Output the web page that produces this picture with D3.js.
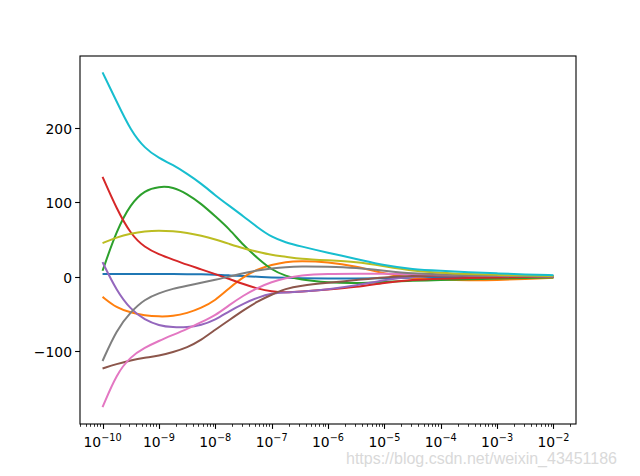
<!DOCTYPE html>
<html><head><meta charset="utf-8">
<script src="https://cdn.jsdelivr.net/npm/d3@7"></script>
<style>body{margin:0;background:#fff}svg{display:block}</style>
</head><body>
<script>
// x positions: exponents of alpha (10^k)
const exponents = [-10,-9.75,-9.5,-9.25,-9,-8.75,-8.5,-8.25,-8,-7.75,-7.5,-7.25,-7,-6.75,-6.5,-6,-5.5,-5,-4.5,-4,-3.5,-3,-2.5,-2];
const s0 = [3.8, 3.8, 3.8, 3.8, 3.8, 3.7, 3.5, 3.2, 2.8, 1.8, 0.8, 0, -1, -1.5, -2, -2.5, -2.5, -2, -1.5, -1, -0.5, -0.3, -0.2, 0];
const s1 = [-27, -42, -48, -52, -53.5, -53, -49, -42, -32, -15, 0, 10, 16, 20, 21, 20, 14, 4, -2, -4, -5, -4.5, -3, -1.5];
const s2 = [8, 62, 98, 116, 121, 120.5, 111, 98, 81, 64, 42, 25, 9, 1, -4, -8, -9, -7, -5, -4.5, -3.5, -2.5, -1.5, -1];
const s3 = [134, 91, 57, 39, 30, 23, 16, 10, 3.5, -3, -10, -16, -20, -21, -20, -17, -14, -8, -4, -2.5, -1.5, -1, -0.5, 0];
const s4 = [19.5, -19, -44, -58, -65.5, -68, -68, -65, -58, -46, -36, -28, -22, -21, -20, -17, -12, -4, 0, 1.5, 1.5, 1, 0.5, 0.3];
const s5 = [-123, -117, -112, -108.5, -106, -101, -95, -85, -71, -58, -45, -33, -24, -16, -12, -8, -4.5, -0.5, 1, 1.5, 1.5, 1, 0.5, 0.3];
const s6 = [-175, -130, -107, -95, -86, -78, -70, -61, -52, -38, -25, -15, -7, -2, 2, 4, 4, 4, 3.5, 3, 2, 1.5, 1, 0.5];
const s7 = [-113, -71, -47, -30, -22, -16, -12, -8, -4, 0, 5, 8.5, 11, 13, 14, 13.5, 12, 8, 4, 3, 2, 1.5, 1, 0.5];
const s8 = [45, 53, 58, 61, 62, 61, 59, 55, 50, 44, 38, 33.5, 29, 27, 24, 22, 20, 14, 8, 5, 3.5, 2.5, 1.5, 1];
const s9 = [274, 235, 196, 172, 159, 150, 138, 125, 109, 95, 81, 66, 53, 46, 41, 32, 24, 15, 10, 8, 6, 4.5, 3, 2];
const series = [s0,s1,s2,s3,s4,s5,s6,s7,s8,s9];
const colors = ["#1f77b4","#ff7f0e","#2ca02c","#d62728","#9467bd","#8c564b","#e377c2","#7f7f7f","#bcbd22","#17becf"];
const xTickExps = [-10,-9,-8,-7,-6,-5,-4,-3,-2];
const yTicks = [-100, 0, 100, 200];

const W = 640, H = 476;
const L = 80, R = 576, T = 56, B = 424;
const svg = d3.select("body").append("svg").attr("width", W).attr("height", H);
const x = d3.scaleLog().domain([Math.pow(10,-10.4), Math.pow(10,-1.6)]).range([L, R]);
const y = d3.scaleLinear().domain([-197.5, 296]).range([B, T]);

const line = d3.line().x((d,i)=>x(Math.pow(10, exponents[i]))).y(d=>y(d)).curve(d3.curveBasis);
const g = svg.append("g");
g.append("clipPath").attr("id","clip").append("rect").attr("x",L).attr("y",T).attr("width",R-L).attr("height",B-T);
series.forEach((s,i)=>{
  g.append("path").attr("d", line(s)).attr("fill","none").attr("stroke",colors[i])
   .attr("stroke-width",2).attr("clip-path","url(#clip)").attr("stroke-linejoin","round").attr("stroke-linecap","butt");
});

// frame
svg.append("rect").attr("x",L).attr("y",T).attr("width",R-L).attr("height",B-T)
  .attr("fill","none").attr("stroke","#000").attr("stroke-width",1.1);

// y axis
const yAxis = svg.append("g").attr("font-family","DejaVu Sans").attr("font-size",13.9);
yTicks.forEach(v=>{
  const py = Math.round(y(v))+0.5;
  yAxis.append("line").attr("x1",L-4.9).attr("x2",L).attr("y1",py).attr("y2",py).attr("stroke","#000").attr("stroke-width",1.1);
  yAxis.append("text").attr("x",L-8).attr("y",py).attr("dy","0.36em").attr("text-anchor","end")
    .text(v<0 ? "\u2212"+Math.abs(v) : String(v));
});

// x axis ticks (major + minor)
const xAxis = svg.append("g").attr("font-family","DejaVu Sans");
for (let k=-11; k<=-2; k++){
  for (let m=1; m<=9; m++){
    const v = m*Math.pow(10,k);
    if (v < x.domain()[0] || v > x.domain()[1]) continue;
    const px = Math.round(x(v))+0.5;
    const len = m===1 ? 4.9 : 2.8;
    xAxis.append("line").attr("x1",px).attr("x2",px).attr("y1",B).attr("y2",B+len)
      .attr("stroke","#000").attr("stroke-width", m===1?1.1:0.8);
  }
}
xTickExps.forEach(k=>{
  const px = x(Math.pow(10,k));
  const t = xAxis.append("text").attr("x",px).attr("y",B+23).attr("text-anchor","middle").attr("font-size",13.9);
  t.append("tspan").text("10");
  t.append("tspan").attr("font-size",9.7).attr("dy",-6).text("\u2212"+Math.abs(k));
});

// watermark
svg.append("text").attr("x",617).attr("y",464).attr("text-anchor","end")
  .attr("font-family","Liberation Sans, Arial, sans-serif").attr("font-size",16)
  .attr("fill","#d9d9d9").text("https://blog.csdn.net/weixin_43451186");
</script>
</body></html>
